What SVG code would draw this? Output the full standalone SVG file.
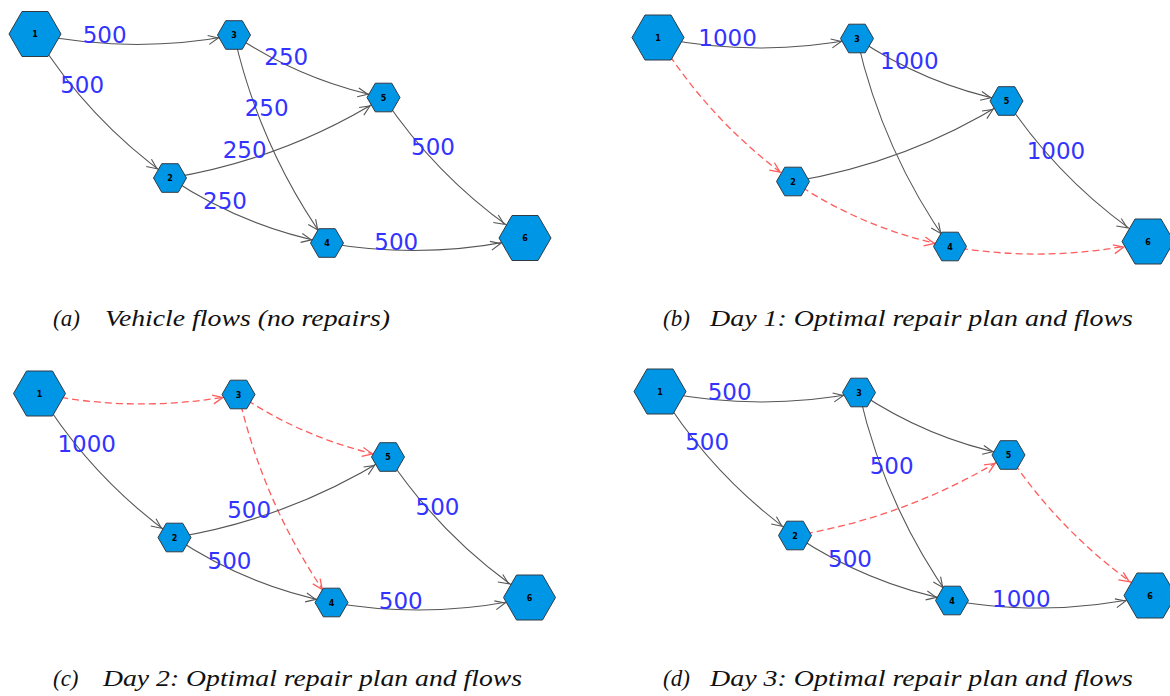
<svg xmlns="http://www.w3.org/2000/svg" xmlns:xlink="http://www.w3.org/1999/xlink" width="1170" height="696" viewBox="0 0 1170 696">
<style>
.e{fill:none;stroke:#555;stroke-width:1.1}
.r{fill:none;stroke:#ff5c5c;stroke-width:1.3;stroke-dasharray:7 4}
.mg{fill:none;stroke:#555;stroke-width:1.1}
.mr{fill:none;stroke:#ff5c5c;stroke-width:1.3}
.hex{fill:#0096e6;stroke:#2f3b45;stroke-width:1}
.nl{font-family:"DejaVu Sans",sans-serif;font-size:8px;font-weight:bold;fill:#000;text-anchor:middle}
.fl{font-family:"DejaVu Sans",sans-serif;font-size:23px;fill:#3333ff;text-anchor:middle}
.cap{font-family:'Liberation Serif','Times New Roman',serif;font-style:italic;font-size:23px;fill:#111}
.gs{marker-end:url(#mgs)} .gl{marker-end:url(#mgl)} .rs{marker-end:url(#mrs)} .rl{marker-end:url(#mrl)}
</style>
<defs>
<marker id="mgs" markerUnits="userSpaceOnUse" orient="auto" refX="16" refY="0" markerWidth="12" markerHeight="12" overflow="visible"><path class="mg" d="M-10,-4.5 L0,0 L-10,4.5"/></marker>
<marker id="mgl" markerUnits="userSpaceOnUse" orient="auto" refX="25" refY="0" markerWidth="12" markerHeight="12" overflow="visible"><path class="mg" d="M-10,-4.5 L0,0 L-10,4.5"/></marker>
<marker id="mrs" markerUnits="userSpaceOnUse" orient="auto" refX="16" refY="0" markerWidth="12" markerHeight="12" overflow="visible"><path class="mr" d="M-10,-4.5 L0,0 L-10,4.5"/></marker>
<marker id="mrl" markerUnits="userSpaceOnUse" orient="auto" refX="25" refY="0" markerWidth="12" markerHeight="12" overflow="visible"><path class="mr" d="M-10,-4.5 L0,0 L-10,4.5"/></marker>
<polygon id="hexL" class="hex" points="26,0 13,22.5 -13,22.5 -26,0 -13,-22.5 13,-22.5"/>
<polygon id="hexS" class="hex" points="16.5,0 8.25,14.3 -8.25,14.3 -16.5,0 -8.25,-14.3 8.25,-14.3"/>
</defs>
<rect width="1170" height="696" fill="#fff"/>

<!-- Panel (a) -->
<g id="panel-a">
<g id="a-connectors">
<path class="e gs" d="M35,34 Q134.4,54.4 234,35"/>
<path class="e gs" d="M35,34 Q88.1,119.5 170,178"/>
<path class="e gs" d="M234,35 Q302.5,81.2 383.5,97.5"/>
<path class="e gs" d="M234,35 Q259.7,148.3 327,243"/>
<path class="e gs" d="M170,178 Q284.8,159.1 383.5,97.5"/>
<path class="e gs" d="M170,178 Q242,226.2 327,243"/>
<path class="e gl" d="M383.5,97.5 Q440.2,181.9 525,238"/>
<path class="e gl" d="M327,243 Q426.5,260.3 525,238"/>
</g>
<g id="a-n1" transform="translate(35,34)"><use xlink:href="#hexL"/><text class="nl" y="3">1</text></g>
<g id="a-n2" transform="translate(170,178)"><use xlink:href="#hexS"/><text class="nl" y="3">2</text></g>
<g id="a-n3" transform="translate(234,35)"><use xlink:href="#hexS"/><text class="nl" y="3">3</text></g>
<g id="a-n4" transform="translate(327,243)"><use xlink:href="#hexS"/><text class="nl" y="3">4</text></g>
<g id="a-n5" transform="translate(383.5,97.5)"><use xlink:href="#hexS"/><text class="nl" y="3">5</text></g>
<g id="a-n6" transform="translate(525,238)"><use xlink:href="#hexL"/><text class="nl" y="3">6</text></g>
<g id="a-labels">
<text class="fl" x="104.6" y="42.7">500</text>
<text class="fl" x="82.2" y="92.8">500</text>
<text class="fl" x="286.3" y="65.3">250</text>
<text class="fl" x="266.6" y="116.2">250</text>
<text class="fl" x="244.7" y="158.2">250</text>
<text class="fl" x="225" y="209.2">250</text>
<text class="fl" x="433" y="155.1">500</text>
<text class="fl" x="396.3" y="249.7">500</text>
</g>
<text class="cap" x="53" y="326">(a)</text>
<text class="cap" x="105" y="326" textLength="285" lengthAdjust="spacingAndGlyphs">Vehicle flows (no repairs)</text>
</g>

<!-- Panel (b) -->
<g id="panel-b">
<g transform="translate(623,3.5)">
<g id="b-connectors">
<path class="e gs" d="M35,34 Q134.4,54.4 234,35"/>
<path class="r rs" d="M35,34 Q88.1,119.5 170,178"/>
<path class="e gs" d="M234,35 Q302.5,81.2 383.5,97.5"/>
<path class="e gs" d="M234,35 Q259.7,148.3 327,243"/>
<path class="e gs" d="M170,178 Q284.8,159.1 383.5,97.5"/>
<path class="r rs" d="M170,178 Q242,226.2 327,243"/>
<path class="e gl" d="M383.5,97.5 Q440.2,181.9 525,238"/>
<path class="r rl" d="M327,243 Q426.5,260.3 525,238"/>
</g>
<g id="b-n1" transform="translate(35,34)"><use xlink:href="#hexL"/><text class="nl" y="3">1</text></g>
<g id="b-n2" transform="translate(170,178)"><use xlink:href="#hexS"/><text class="nl" y="3">2</text></g>
<g id="b-n3" transform="translate(234,35)"><use xlink:href="#hexS"/><text class="nl" y="3">3</text></g>
<g id="b-n4" transform="translate(327,243)"><use xlink:href="#hexS"/><text class="nl" y="3">4</text></g>
<g id="b-n5" transform="translate(383.5,97.5)"><use xlink:href="#hexS"/><text class="nl" y="3">5</text></g>
<g id="b-n6" transform="translate(525,238)"><use xlink:href="#hexL"/><text class="nl" y="3">6</text></g>
<g id="b-labels">
<text class="fl" x="104.6" y="42.7">1000</text>
<text class="fl" x="286.3" y="65.3">1000</text>
<text class="fl" x="433" y="155.1">1000</text>
</g>
</g>
<text class="cap" x="663" y="326">(b)</text>
<text class="cap" x="710" y="326" textLength="423" lengthAdjust="spacingAndGlyphs">Day 1: Optimal repair plan and flows</text>
</g>

<!-- Panel (c) -->
<g id="panel-c">
<g transform="translate(4.5,359.5)">
<g id="c-connectors">
<path class="r rs" d="M35,34 Q134.4,54.4 234,35"/>
<path class="e gs" d="M35,34 Q88.1,119.5 170,178"/>
<path class="r rs" d="M234,35 Q302.5,81.2 383.5,97.5"/>
<path class="r rs" d="M234,35 Q259.7,148.3 327,243"/>
<path class="e gs" d="M170,178 Q284.8,159.1 383.5,97.5"/>
<path class="e gs" d="M170,178 Q242,226.2 327,243"/>
<path class="e gl" d="M383.5,97.5 Q440.2,181.9 525,238"/>
<path class="e gl" d="M327,243 Q426.5,260.3 525,238"/>
</g>
<g id="c-n1" transform="translate(35,34)"><use xlink:href="#hexL"/><text class="nl" y="3">1</text></g>
<g id="c-n2" transform="translate(170,178)"><use xlink:href="#hexS"/><text class="nl" y="3">2</text></g>
<g id="c-n3" transform="translate(234,35)"><use xlink:href="#hexS"/><text class="nl" y="3">3</text></g>
<g id="c-n4" transform="translate(327,243)"><use xlink:href="#hexS"/><text class="nl" y="3">4</text></g>
<g id="c-n5" transform="translate(383.5,97.5)"><use xlink:href="#hexS"/><text class="nl" y="3">5</text></g>
<g id="c-n6" transform="translate(525,238)"><use xlink:href="#hexL"/><text class="nl" y="3">6</text></g>
<g id="c-labels">
<text class="fl" x="82.2" y="92.8">1000</text>
<text class="fl" x="244.7" y="158.2">500</text>
<text class="fl" x="225" y="209.2">500</text>
<text class="fl" x="433" y="155.1">500</text>
<text class="fl" x="396.3" y="249.7">500</text>
</g>
</g>
<text class="cap" x="53" y="686">(c)</text>
<text class="cap" x="103" y="686" textLength="419" lengthAdjust="spacingAndGlyphs">Day 2: Optimal repair plan and flows</text>
</g>

<!-- Panel (d) -->
<g id="panel-d">
<g transform="translate(625,357.5)">
<g id="d-connectors">
<path class="e gs" d="M35,34 Q134.4,54.4 234,35"/>
<path class="e gs" d="M35,34 Q88.1,119.5 170,178"/>
<path class="e gs" d="M234,35 Q302.5,81.2 383.5,97.5"/>
<path class="e gs" d="M234,35 Q259.7,148.3 327,243"/>
<path class="r rs" d="M170,178 Q284.8,159.1 383.5,97.5"/>
<path class="e gs" d="M170,178 Q242,226.2 327,243"/>
<path class="r rl" d="M383.5,97.5 Q440.2,181.9 525,238"/>
<path class="e gl" d="M327,243 Q426.5,260.3 525,238"/>
</g>
<g id="d-n1" transform="translate(35,34)"><use xlink:href="#hexL"/><text class="nl" y="3">1</text></g>
<g id="d-n2" transform="translate(170,178)"><use xlink:href="#hexS"/><text class="nl" y="3">2</text></g>
<g id="d-n3" transform="translate(234,35)"><use xlink:href="#hexS"/><text class="nl" y="3">3</text></g>
<g id="d-n4" transform="translate(327,243)"><use xlink:href="#hexS"/><text class="nl" y="3">4</text></g>
<g id="d-n5" transform="translate(383.5,97.5)"><use xlink:href="#hexS"/><text class="nl" y="3">5</text></g>
<g id="d-n6" transform="translate(525,238)"><use xlink:href="#hexL"/><text class="nl" y="3">6</text></g>
<g id="d-labels">
<text class="fl" x="104.6" y="42.7">500</text>
<text class="fl" x="82.2" y="92.8">500</text>
<text class="fl" x="266.6" y="116.2">500</text>
<text class="fl" x="225" y="209.2">500</text>
<text class="fl" x="396.3" y="249.7">1000</text>
</g>
</g>
<text class="cap" x="663" y="686">(d)</text>
<text class="cap" x="710" y="686" textLength="423" lengthAdjust="spacingAndGlyphs">Day 3: Optimal repair plan and flows</text>
</g>
</svg>
